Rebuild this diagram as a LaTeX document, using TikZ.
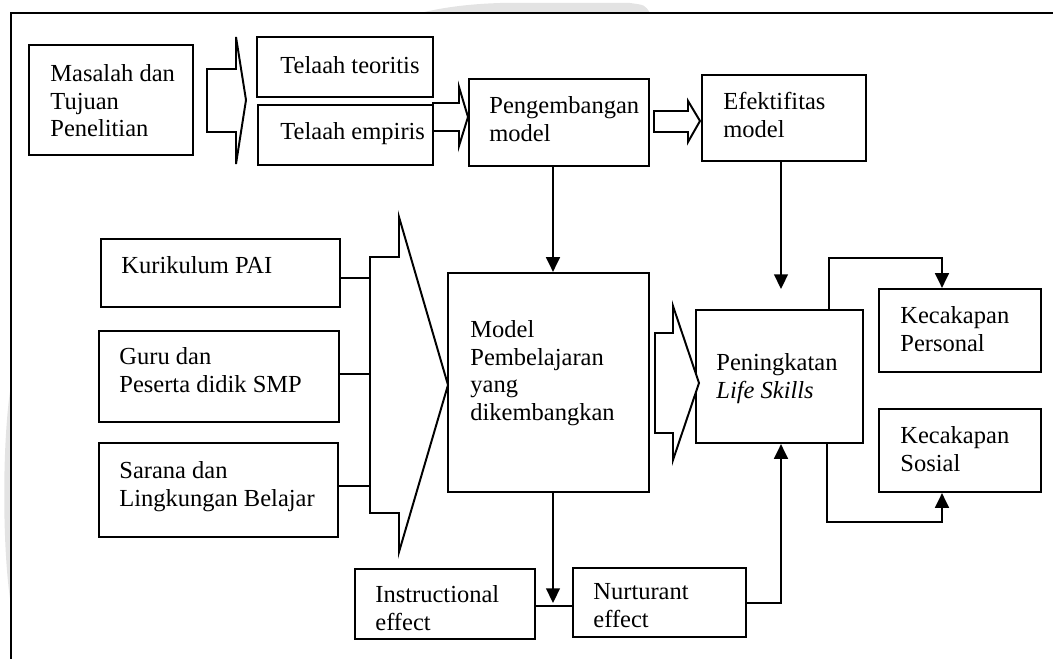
\documentclass[tikz,border=0pt]{standalone}
\usepackage{fontspec}
\setmainfont{Liberation Serif}
\usetikzlibrary{arrows.meta,fit}
\tikzset{
  box/.style={draw, line width=1.1pt, inner sep=0pt},
  txt/.style={anchor=north west, inner sep=0pt, align=left, font=\fontsize{12.5}{14.1}\selectfont},
  conn/.style={line width=1.1pt},
  arr/.style={conn, -{Triangle[length=7.5pt,width=7pt]}},
  blockarrow/.style={draw, line width=1pt, line join=miter, fill=white},
  wm/.style={fill=gray!22, draw=none},
}
\begin{document}
\begin{tikzpicture}[x=0.51pt,y=-0.51pt]
\useasboundingbox (0,0) rectangle (1053,659);
% faint watermark remnants outside the frame
\fill[wm] (11,385) .. controls (2,440) and (2,550) .. (11,605) -- cycle;
\fill[wm] (420,13) .. controls (445,7) and (470,4) .. (500,3) -- (630,3) .. controls (645,5) .. (650,13) -- cycle;
% frame
\draw[line width=1.2pt] (1053,13) -- (11,13) -- (11,659);

% boxes
\node[box, fit={(29,45) (193,155)}] (masalah) {};
\node[box, fit={(257,37) (433,97)}] (teoritis) {};
\node[box, fit={(258,105) (433,165)}] (empiris) {};
\node[box, fit={(469,79) (649,166)}] (peng) {};
\node[box, fit={(702,75) (866,161)}] (efek) {};
\node[box, fit={(101,239) (340,307)}] (kur) {};
\node[box, fit={(99,331) (339,422)}] (guru) {};
\node[box, fit={(99,443) (338,537)}] (sarana) {};
\node[box, fit={(448,273) (649,492)}] (model) {};
\node[box, fit={(696,310) (863,443)}] (ls) {};
\node[box, fit={(879,289) (1041,372)}] (personal) {};
\node[box, fit={(879,409) (1041,492)}] (sosial) {};
\node[box, fit={(355,569) (535,639)}] (instr) {};
\node[box, fit={(573,568) (746,637)}] (nurt) {};

% texts
\node[txt] (tmasalah) at (50,64) {Masalah dan\\Tujuan\\Penelitian};
\node[txt] (tteoritis) at (280,56) {Telaah teoritis};
\node[txt] (tempiris) at (280,122) {Telaah empiris};
\node[txt] (tpeng) at (489,96) {Pengembangan\\model};
\node[txt] (tefek) at (723,92) {Efektifitas\\model};
\node[txt] (tkur) at (121,256) {Kurikulum PAI};
\node[txt] (tguru) at (119,347) {Guru dan\\Peserta didik SMP};
\node[txt] (tsarana) at (119,461) {Sarana dan\\Lingkungan Belajar};
\node[txt] (tmodel) at (470,320) {Model\\Pembelajaran\\yang\\dikembangkan};
\node[txt] (tls) at (716,353) {Peningkatan\\\textit{Life Skills}};
\node[txt] (tpersonal) at (900,306) {Kecakapan\\Personal};
\node[txt] (tsosial) at (900,426) {Kecakapan\\Sosial};
\node[txt] (tinstr) at (375,585) {Instructional\\effect};
\node[txt] (tnurt) at (593,583) {Nurturant\\effect};

% block arrows
\draw[blockarrow] (207,69) -- (236,69) -- (236,37) -- (246,100) -- (236,164) -- (236,132) -- (207,132) -- cycle;
\draw[blockarrow] (433,103) -- (459,103) -- (459,87) -- (468,117) -- (459,146) -- (459,131) -- (433,131) -- cycle;
\draw[blockarrow] (654,111) -- (688,111) -- (688,101) -- (700,121) -- (688,142) -- (688,132) -- (654,132) -- cycle;
\draw[blockarrow] (370,257) -- (399,257) -- (399,217) -- (448,385) -- (399,552) -- (399,513) -- (370,513) -- cycle;
\draw[blockarrow] (655,333) -- (673,333) -- (673,306) -- (699,383) -- (673,460) -- (673,433) -- (655,433) -- cycle;

% connectors from inputs to the big arrow
\coordinate (s1) at (370,278);
\coordinate (s2) at (370,374);
\coordinate (s3) at (370,486);
\draw[conn] (s1 -| kur.east) -- (s1);
\draw[conn] (s2 -| guru.east) -- (s2);
\draw[conn] (s3 -| sarana.east) -- (s3);

% arrows
\coordinate (xm) at (553,0);
\coordinate (xe) at (781,0);
\draw[arr] (peng.south -| xm) -- (model.north -| xm);
\coordinate (efend) at (781,289);
\draw[arr] (efek.south -| xe) -- (efend);
\coordinate (junc) at (553,606);
\draw[conn] (instr.east |- junc) -- (nurt.west |- junc);
\coordinate (mend) at (553,603);
\draw[arr] (model.south -| xm) -- (mend);
\coordinate (nr) at (781,603);
\draw[arr] (nurt.east |- nr) -- (nr) -- (ls.south -| xe);
\coordinate (up1) at (829,258);
\coordinate (up2) at (942,258);
\draw[arr] (ls.north -| up1) -- (up1) -- (up2) -- (personal.north -| up2);
\coordinate (dn1) at (827,522);
\coordinate (dn2) at (942,522);
\draw[arr] (ls.south -| dn1) -- (dn1) -- (dn2) -- (sosial.south -| dn2);
\end{tikzpicture}
\end{document}
